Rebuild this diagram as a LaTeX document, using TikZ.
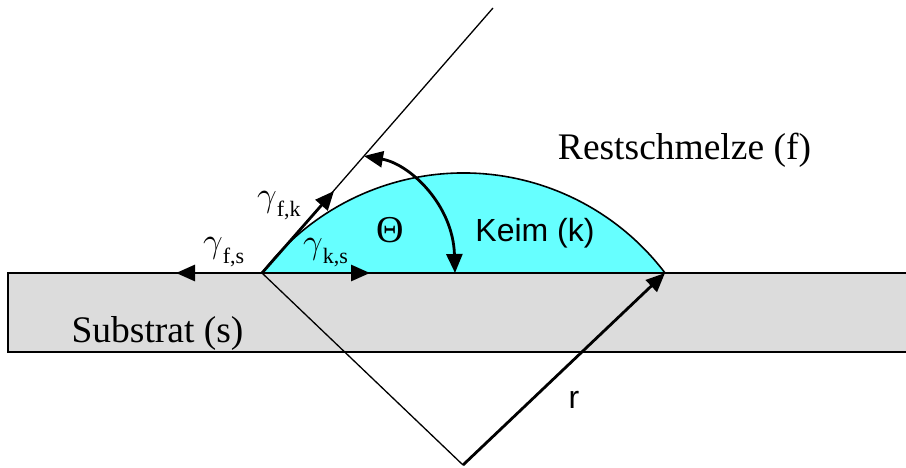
\documentclass[tikz,border=0pt]{standalone}
\usepackage{fix-cm}
\usepackage{fontspec}
\setmainfont{Liberation Serif}
\newfontfamily\arialfont{Liberation Sans}
\usetikzlibrary{arrows.meta}
\definecolor{substratgray}{HTML}{DCDCDC}
\definecolor{keimcyan}{HTML}{66FFFF}
\newcommand\gammalabel[1]{{\fontsize{35}{35}\selectfont$\gamma$}\raisebox{-10pt}{\fontsize{22}{22}\selectfont #1}}
\tikzset{
  thinline/.style={line width=1.3pt},
  edgeline/.style={line width=2.4pt},
  vec/.style={line width=2.8pt, -{Triangle[length=19pt,width=16pt]}},
  dblvec/.style={line width=2.8pt, {Triangle[length=19pt,width=16pt]}-{Triangle[length=19pt,width=16pt]}},
  serifbig/.style={inner sep=0pt, anchor=base, font=\fontsize{37.5}{37.5}\selectfont},
  sansbig/.style={inner sep=0pt, anchor=base, font=\arialfont\fontsize{32}{32}\selectfont},
  gammanode/.style={inner sep=0pt, anchor=base west}
}
\begin{document}
\begin{tikzpicture}[x=1pt,y=-1pt]
\useasboundingbox (0,0) rectangle (906,468);
% key points
\coordinate (A) at (262,273);
\coordinate (B) at (665,273);
\coordinate (O) at (463,465);
\coordinate (T) at (493,8);
\coordinate (FK) at (334,191);
\coordinate (FS) at (176,273);
\coordinate (KS) at (370,273);
\coordinate (TH1) at (364,156);
\coordinate (TH2) at (455,273);
\coordinate (SL) at (8,273);
\coordinate (SR) at (906,273);
\coordinate (SLB) at (8,352);
\coordinate (SRB) at (906,352);
% substrate
\fill[substratgray] (SL) rectangle (SRB);
% nucleus cap
\fill[keimcyan] (A) arc[start angle=-142.8, end angle=-37.2, radius=253] -- cycle;
\draw[line width=1.6pt] (A) arc[start angle=-142.8, end angle=-37.2, radius=253];
% substrate outline
\draw[edgeline] (SR) -- (SL) -- (SLB) -- (SRB);
% construction lines
\draw[thinline] (A) -- (T);
\draw[thinline] (A) -- (O);
% vectors
\draw[vec] (O) -- (B);
\draw[vec] (A) -- (FK);
\draw[vec] (A) -- (FS);
\draw[vec] (A) -- (KS);
\draw[dblvec] (TH1) .. controls (410,164) and (453,205) .. (TH2);
% labels
\node[serifbig] (rest) at (684.5,160) {Restschmelze (f)};
\node[serifbig] (sub) at (157.5,342) {Substrat (s)};
\node[sansbig] (keim) at (535,242) {Keim (k)};
\node[inner sep=0pt, anchor=base, font=\fontsize{38}{38}\selectfont] (theta) at (390,243) {Θ};
\node[sansbig] (r) at (574,408) {r};
\node[gammanode] (gfk) at (257,207) {\gammalabel{f,k}};
\node[gammanode] (gfs) at (203,253) {\gammalabel{f,s}};
\node[gammanode] (gks) at (303,254) {\gammalabel{k,s}};
\end{tikzpicture}
\end{document}
